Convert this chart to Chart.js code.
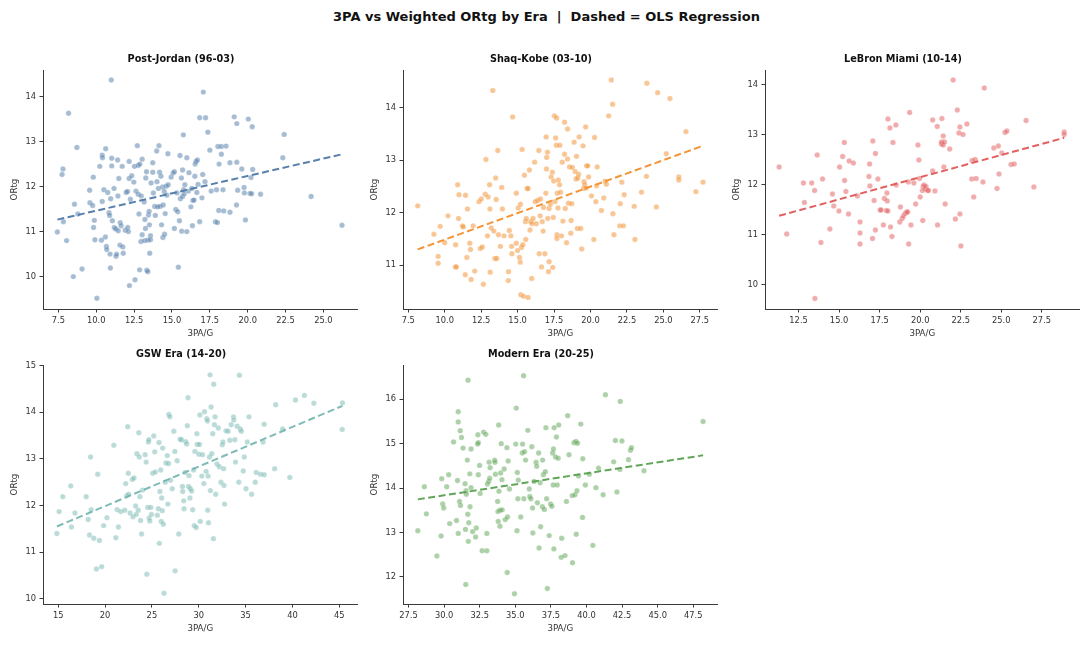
<!DOCTYPE html>
<html>
<head>
<meta charset="utf-8">
<script src="https://cdn.jsdelivr.net/npm/chart.js@4/dist/chart.umd.min.js"></script>
<style>
  html, body { margin: 0; padding: 0; background: #ffffff; }
  body { width: 1087px; height: 670px; position: relative; overflow: hidden; font-family: "DejaVu Sans", sans-serif; }
  #suptitle { position: absolute; left: 333px; top: 9px; font-size: 13px; font-weight: bold; color: #111; white-space: pre; line-height: 16px; }
  canvas { position: absolute; }
</style>
</head>
<body>
<div id="suptitle">3PA vs Weighted ORtg by Era  |  Dashed = OLS Regression</div>
<canvas id="c1" width="362" height="300" style="left:0px;top:45px"></canvas>
<canvas id="c2" width="362" height="300" style="left:360px;top:45px"></canvas>
<canvas id="c3" width="362" height="300" style="left:722px;top:45px"></canvas>
<canvas id="c4" width="362" height="300" style="left:0px;top:340px"></canvas>
<canvas id="c5" width="362" height="300" style="left:360px;top:340px"></canvas>
<script>
// ---------- data: [3PA/G, ORtg] ----------
const eraTitles = ["Post-Jordan (96-03)", "Shaq-Kobe (03-10)", "LeBron Miami (10-14)", "GSW Era (14-20)", "Modern Era (20-25)"];
const eraColors = ["#4e79a7", "#f28e2b", "#e15759", "#76b7b2", "#59a14f"];

const postJordan = [[7.43,10.99],[7.74,12.27],[7.8,12.39],[7.83,11.22],[8.04,10.8],[8.17,13.63],[8.48,10.0],[8.56,11.61],[8.72,12.87],[8.78,11.39],[9.06,10.17],[9.56,11.92],[9.58,11.64],[9.76,11.58],[9.8,12.21],[9.82,11.09],[9.87,11.25],[9.91,10.82],[10.04,9.52],[10.23,12.45],[10.39,12.7],[10.41,12.64],[10.39,11.67],[10.34,10.81],[10.5,11.93],[10.6,10.88],[10.62,12.84],[10.67,10.67],[10.69,10.6],[10.76,11.87],[10.84,11.42],[10.88,11.36],[10.91,10.5],[10.93,10.19],[10.95,11.73],[10.99,14.37],[11.02,12.63],[11.02,12.46],[11.06,11.24],[11.17,11.96],[11.19,11.09],[11.28,11.06],[11.3,10.45],[11.34,10.5],[11.41,12.59],[11.43,11.79],[11.45,11.02],[11.49,12.18],[11.56,10.7],[11.58,11.2],[11.64,11.13],[11.71,12.45],[11.75,10.66],[11.78,10.52],[11.91,11.03],[11.97,11.87],[12.06,11.89],[12.08,11.09],[12.12,11.0],[12.17,12.56],[12.17,12.18],[12.19,9.8],[12.25,11.72],[12.34,12.24],[12.48,12.1],[12.52,12.45],[12.56,9.93],[12.62,11.9],[12.71,12.91],[12.77,12.47],[12.77,11.83],[12.82,11.39],[12.86,10.15],[12.88,12.5],[12.95,10.78],[12.97,11.79],[13.03,12.61],[13.03,10.93],[13.16,11.66],[13.19,10.8],[13.21,11.27],[13.25,11.07],[13.27,12.19],[13.32,12.33],[13.34,10.14],[13.4,10.11],[13.4,10.81],[13.45,11.37],[13.49,11.45],[13.51,11.15],[13.53,10.52],[13.58,10.91],[13.58,10.82],[13.62,12.08],[13.73,12.53],[13.73,12.32],[13.77,11.86],[13.86,11.56],[13.9,11.36],[13.99,12.79],[14.01,12.11],[14.05,11.55],[14.1,11.96],[14.14,12.91],[14.18,12.32],[14.21,11.56],[14.27,12.23],[14.31,11.15],[14.38,11.99],[14.4,10.87],[14.42,11.59],[14.49,11.89],[14.51,10.94],[14.55,11.4],[14.62,12.01],[14.66,11.81],[14.73,12.73],[14.75,12.04],[14.94,12.21],[15.07,12.3],[15.16,12.33],[15.16,11.07],[15.25,11.49],[15.33,11.86],[15.38,11.44],[15.42,10.21],[15.49,11.24],[15.53,12.69],[15.55,11.73],[15.62,12.19],[15.64,11.01],[15.7,12.37],[15.7,11.78],[15.75,13.15],[15.77,11.93],[15.81,11.84],[15.85,12.04],[15.98,12.64],[15.98,11.0],[16.09,11.9],[16.12,12.31],[16.25,11.55],[16.31,11.96],[16.35,11.13],[16.38,11.69],[16.46,11.7],[16.51,12.23],[16.53,12.5],[16.59,12.56],[16.64,11.87],[16.68,12.59],[16.72,12.05],[16.83,11.22],[16.83,13.53],[16.98,11.75],[17.03,12.27],[17.07,14.1],[17.18,12.11],[17.22,13.53],[17.37,13.21],[17.5,12.81],[17.59,11.9],[17.87,11.22],[17.94,11.93],[18.0,11.2],[18.03,12.89],[18.09,11.47],[18.11,12.5],[18.26,12.89],[18.26,12.72],[18.37,11.93],[18.42,11.46],[18.57,12.9],[18.83,12.53],[18.83,11.43],[19.11,13.55],[19.26,11.59],[19.28,13.4],[19.28,12.54],[19.34,11.92],[19.61,12.39],[19.76,11.98],[19.78,11.86],[19.85,11.26],[20.04,13.5],[20.15,11.85],[20.22,12.2],[20.26,11.84],[20.3,13.33],[20.33,12.38],[20.85,11.83],[22.32,12.64],[22.41,13.16],[24.19,11.78],[26.23,11.14]];

const shaqKobe = [[8.15,12.13],[9.26,11.59],[9.55,11.17],[9.55,11.04],[9.69,11.74],[10.0,11.43],[10.23,11.94],[10.75,11.39],[10.73,10.97],[10.8,10.97],[10.89,12.53],[10.95,11.89],[10.98,12.34],[11.22,11.75],[11.27,11.73],[11.41,10.82],[11.43,12.33],[11.52,11.15],[11.56,12.07],[11.72,11.42],[11.77,11.3],[11.81,10.73],[11.95,11.75],[12.06,10.89],[12.35,12.21],[12.44,11.32],[12.51,12.26],[12.58,11.35],[12.65,10.64],[12.78,12.35],[12.83,13.01],[12.94,11.56],[12.98,12.3],[13.08,12.53],[13.1,12.07],[13.12,10.87],[13.19,11.71],[13.3,14.32],[13.37,11.65],[13.44,11.13],[13.5,12.66],[13.53,12.25],[13.57,11.13],[13.64,13.18],[13.69,11.58],[13.82,11.36],[13.91,12.48],[13.96,12.07],[14.07,11.56],[14.38,10.88],[14.36,10.71],[14.43,11.66],[14.54,11.56],[14.59,11.36],[14.61,11.22],[14.66,13.82],[14.91,11.42],[14.91,12.37],[15.0,11.28],[15.04,12.09],[15.13,11.15],[15.18,11.06],[15.2,12.16],[15.22,10.44],[15.27,11.34],[15.31,13.2],[15.36,11.39],[15.42,10.41],[15.47,12.71],[15.54,11.83],[15.56,11.49],[15.6,11.89],[15.65,12.46],[15.72,10.39],[15.72,12.46],[15.81,12.81],[15.85,11.67],[15.9,11.83],[15.97,10.75],[15.99,11.79],[16.06,11.89],[16.17,12.96],[16.21,12.21],[16.28,11.79],[16.37,12.23],[16.46,13.18],[16.48,11.22],[16.55,11.94],[16.57,12.26],[16.64,10.97],[16.69,11.83],[16.75,11.65],[16.78,12.1],[16.87,11.22],[16.94,12.37],[16.96,13.44],[16.98,12.83],[17.0,13.05],[17.05,13.15],[17.07,11.89],[17.12,10.88],[17.16,11.07],[17.16,12.08],[17.25,12.16],[17.3,12.68],[17.39,12.77],[17.41,10.96],[17.45,11.91],[17.48,12.6],[17.52,13.84],[17.57,12.21],[17.61,13.42],[17.66,13.28],[17.68,13.8],[17.7,11.58],[17.7,11.51],[17.72,12.37],[17.77,12.09],[17.79,12.62],[17.88,12.53],[17.9,13.28],[17.95,12.39],[18.02,11.56],[18.06,12.96],[18.11,11.84],[18.22,13.11],[18.22,13.72],[18.27,12.08],[18.36,11.43],[18.43,13.59],[18.43,13.02],[18.49,12.18],[18.56,12.87],[18.65,11.61],[18.67,11.85],[18.72,12.17],[18.76,12.86],[18.88,13.34],[18.95,12.78],[19.01,12.64],[19.04,13.07],[19.1,11.7],[19.13,12.66],[19.19,12.73],[19.22,13.44],[19.33,11.7],[19.4,11.31],[19.49,13.27],[19.53,12.46],[19.56,12.59],[19.6,12.53],[19.67,13.63],[19.69,12.47],[19.73,12.89],[19.82,12.89],[19.87,12.68],[20.07,12.32],[20.23,11.49],[20.28,13.43],[20.37,12.21],[20.42,12.51],[20.46,12.87],[20.75,12.04],[20.91,12.28],[21.0,12.6],[21.09,12.54],[21.25,13.84],[21.43,14.52],[21.52,14.06],[21.54,11.98],[21.61,11.58],[22.04,12.17],[22.01,11.75],[22.15,12.58],[22.26,11.75],[22.31,12.34],[23.0,12.12],[23.05,11.49],[23.5,12.39],[23.84,12.69],[23.87,14.46],[24.52,12.11],[24.61,14.28],[25.2,13.12],[25.45,14.17],[26.06,12.68],[26.06,12.62],[26.55,13.54],[27.23,12.4],[27.72,12.58]];

const lebronMiami = [[11.3,12.35],[11.77,11.01],[12.8,12.03],[12.86,11.64],[13.31,12.03],[13.49,11.88],[13.51,9.72],[13.65,12.59],[13.88,10.84],[13.98,12.11],[14.43,11.11],[14.59,11.81],[14.67,11.57],[14.99,11.47],[15.03,12.35],[15.22,12.56],[15.32,12.84],[15.34,12.08],[15.42,11.86],[15.58,11.41],[15.62,12.47],[15.88,12.43],[16.13,11.77],[16.29,11.25],[16.29,11.03],[16.29,10.81],[16.88,12.41],[16.84,12.16],[16.9,11.97],[17.08,12.87],[17.06,10.92],[17.16,11.68],[17.24,12.62],[17.24,11.09],[17.39,12.11],[17.53,11.49],[17.59,11.49],[17.73,11.19],[17.79,11.72],[17.91,11.48],[17.95,11.83],[17.97,11.67],[18.01,11.47],[18.01,13.31],[18.13,13.13],[18.17,11.15],[18.26,10.96],[18.32,12.84],[18.5,13.19],[18.52,11.99],[18.74,11.25],[18.78,11.55],[18.89,11.32],[18.97,11.37],[19.07,11.42],[19.17,11.45],[19.23,11.45],[19.27,12.05],[19.29,10.81],[19.35,13.44],[19.43,11.19],[19.61,12.03],[19.72,11.61],[19.86,12.79],[19.92,12.49],[19.96,12.12],[20.0,11.75],[20.14,11.88],[20.16,11.28],[20.18,11.96],[20.24,11.99],[20.3,11.91],[20.36,11.96],[20.45,11.88],[20.51,11.88],[20.77,13.29],[20.77,12.27],[20.91,11.87],[21.05,13.16],[21.07,11.19],[21.3,12.81],[21.32,12.85],[21.34,13.32],[21.42,12.97],[21.42,12.79],[21.46,12.35],[21.5,12.85],[21.54,11.61],[21.82,12.71],[22.03,14.09],[22.17,11.31],[22.29,13.49],[22.39,13.03],[22.45,13.15],[22.45,11.41],[22.51,10.77],[22.64,13.0],[22.88,13.21],[23.18,12.11],[23.2,12.48],[23.3,11.75],[23.39,12.5],[23.45,12.12],[23.87,12.05],[23.95,13.93],[24.54,12.73],[24.74,11.92],[24.82,12.77],[24.86,12.21],[25.03,12.63],[25.23,13.04],[25.35,13.07],[25.6,12.4],[25.8,12.41],[26.53,13.28],[27.01,11.95],[28.88,13.05],[28.88,13.0]];

const gswEra = [[14.86,11.4],[15.1,11.87],[15.49,12.19],[16.34,12.42],[16.41,11.54],[16.79,11.84],[17.99,12.19],[18.2,11.7],[18.34,11.37],[18.45,13.04],[18.52,11.91],[18.8,11.3],[19.08,10.64],[19.22,12.67],[19.4,11.25],[19.64,10.69],[19.85,11.57],[20.2,11.74],[20.94,13.29],[21.15,11.31],[21.29,11.91],[21.43,11.54],[21.68,11.87],[22.1,11.9],[22.21,12.47],[22.31,12.21],[22.42,13.69],[22.49,12.69],[22.52,12.24],[22.67,11.84],[22.91,12.56],[22.98,11.76],[23.09,12.59],[23.26,11.99],[23.33,11.81],[23.4,13.11],[23.54,11.9],[23.61,13.56],[23.65,13.04],[23.72,12.19],[23.79,11.68],[23.9,11.39],[24.0,12.33],[24.28,13.09],[24.39,12.93],[24.46,10.53],[24.56,11.96],[24.63,13.36],[24.67,13.41],[24.7,11.73],[24.78,11.67],[24.88,11.96],[24.95,11.81],[25.09,12.69],[25.2,13.49],[25.3,13.15],[25.37,12.72],[25.58,11.79],[25.69,11.93],[25.76,13.35],[25.79,11.19],[25.86,12.3],[25.94,12.76],[26.0,11.66],[26.04,12.16],[26.11,11.89],[26.15,13.23],[26.22,11.6],[26.29,10.12],[26.43,12.5],[26.5,12.91],[26.64,13.07],[26.71,12.03],[26.78,12.9],[26.81,13.95],[26.92,13.9],[26.99,12.54],[27.17,12.36],[27.34,13.59],[27.45,13.16],[27.48,10.6],[27.69,12.96],[27.87,11.39],[28.01,13.42],[28.15,13.41],[28.26,12.41],[28.29,12.3],[28.4,12.1],[28.43,11.93],[28.54,12.71],[28.61,13.37],[28.71,13.32],[28.78,13.71],[28.85,14.31],[28.92,12.41],[28.96,12.64],[29.06,12.16],[29.1,12.36],[29.24,12.31],[29.35,11.91],[29.45,12.76],[29.52,11.57],[29.59,13.16],[29.73,11.53],[29.8,13.54],[29.84,13.31],[30.01,13.1],[30.08,13.31],[30.12,13.94],[30.16,11.66],[30.33,12.63],[30.4,13.09],[30.54,12.47],[30.61,14.01],[30.79,12.73],[30.86,13.86],[30.93,13.81],[30.96,11.9],[31.0,12.63],[31.04,11.63],[31.14,13.04],[31.21,14.8],[31.24,12.32],[31.32,14.11],[31.39,13.11],[31.49,13.54],[31.56,11.29],[31.6,14.6],[31.67,13.73],[31.74,13.9],[31.81,12.24],[31.95,12.89],[32.09,13.66],[32.19,12.83],[32.37,12.5],[32.51,13.3],[32.58,13.36],[32.65,12.79],[32.69,12.43],[32.76,12.03],[32.9,13.6],[33.14,13.59],[33.32,13.4],[33.46,13.73],[33.71,13.9],[33.74,13.83],[33.85,13.41],[33.92,12.93],[34.09,13.7],[34.27,12.5],[34.34,14.79],[34.44,13.64],[34.54,13.59],[34.75,12.74],[34.86,13.04],[35.04,12.36],[35.18,13.36],[35.36,13.9],[35.64,12.24],[36.03,12.5],[36.13,12.71],[36.59,12.67],[36.87,13.36],[36.98,13.74],[36.98,12.66],[38.1,12.79],[38.21,14.16],[38.95,13.64],[39.72,12.6],[40.32,14.26],[41.27,14.36],[42.29,14.19],[45.34,14.2],[45.31,13.63]];

const modernEra = [[28.15,13.04],[28.61,14.03],[28.75,13.42],[29.49,12.47],[29.83,14.21],[29.79,12.92],[29.9,13.64],[29.97,13.55],[30.18,14.03],[30.32,14.3],[30.39,13.2],[30.66,15.04],[30.87,13.27],[30.94,14.17],[30.99,15.72],[30.99,15.49],[30.99,12.98],[31.08,13.7],[31.13,15.29],[31.15,13.61],[31.22,15.14],[31.33,14.9],[31.47,14.1],[31.5,13.07],[31.52,11.83],[31.54,13.94],[31.56,13.86],[31.63,14.63],[31.66,13.41],[31.68,16.43],[31.7,12.8],[31.73,13.22],[31.8,14.32],[31.82,13.58],[31.89,14.88],[31.89,14.01],[32.0,13.02],[32.21,12.9],[32.26,13.1],[32.35,14.99],[32.37,15.2],[32.4,15.02],[32.4,14.3],[32.49,14.51],[32.53,13.88],[32.67,12.59],[32.77,15.26],[32.93,15.21],[33.0,12.59],[33.0,12.98],[33.04,14.09],[33.13,14.15],[33.16,14.58],[33.2,14.22],[33.23,14.46],[33.55,14.63],[33.57,14.58],[33.6,14.31],[33.76,13.7],[33.78,13.47],[33.8,13.25],[33.83,15.42],[33.85,13.93],[33.92,13.5],[33.92,13.14],[33.97,14.34],[34.01,15.0],[34.06,14.19],[34.08,13.51],[34.22,14.43],[34.29,13.29],[34.41,14.91],[34.43,12.1],[34.45,13.35],[34.5,14.61],[34.59,13.98],[34.94,11.62],[35.03,14.99],[35.07,15.8],[35.12,13.04],[35.14,14.35],[35.18,13.76],[35.21,14.18],[35.38,13.35],[35.49,14.79],[35.51,14.99],[35.58,16.53],[35.6,13.76],[35.65,14.82],[35.72,14.63],[35.88,15.3],[35.98,13.98],[36.02,13.81],[36.09,13.76],[36.16,14.93],[36.21,13.55],[36.23,12.99],[36.32,14.15],[36.46,14.58],[36.5,14.49],[36.55,13.67],[36.64,14.79],[36.67,12.65],[36.74,14.12],[36.78,13.13],[36.9,13.58],[36.92,14.63],[36.97,14.3],[37.04,13.52],[37.11,14.37],[37.15,15.36],[37.2,13.76],[37.25,11.74],[37.38,12.93],[37.48,13.64],[37.57,13.59],[37.62,14.79],[37.66,14.07],[37.68,14.88],[37.71,12.63],[37.73,15.36],[37.82,14.7],[37.89,15.15],[37.94,14.07],[38.01,14.67],[38.05,15.42],[38.26,12.87],[38.22,12.44],[38.49,12.48],[38.59,13.7],[38.68,15.63],[38.77,14.75],[39.0,13.83],[39.02,12.32],[39.12,15.02],[39.19,13.85],[39.26,15.05],[39.33,13.94],[39.28,12.96],[39.37,15.01],[39.44,14.27],[39.6,15.44],[39.72,13.34],[39.74,14.66],[39.92,14.07],[40.2,14.31],[40.45,12.71],[40.66,14.01],[40.85,14.45],[41.17,13.85],[41.33,16.1],[41.91,14.59],[42.03,15.07],[42.14,13.91],[42.35,14.42],[42.37,15.95],[42.49,15.06],[42.95,14.64],[43.09,14.85],[43.16,14.91],[44.04,14.39],[48.19,15.5]];

// ---------- tick labels ----------
const xTicks1 = [7.5, 10.0, 12.5, 15.0, 17.5, 20.0, 22.5, 25.0];
const yTicks1 = [10, 11, 12, 13, 14];
const xTicks2 = [7.5, 10.0, 12.5, 15.0, 17.5, 20.0, 22.5, 25.0, 27.5];
const yTicks2 = [11, 12, 13, 14];
const xTicks3 = [12.5, 15.0, 17.5, 20.0, 22.5, 25.0, 27.5];
const yTicks3 = [10, 11, 12, 13, 14];
const xTicks4 = [15, 20, 25, 30, 35, 40, 45];
const yTicks4 = [10, 11, 12, 13, 14, 15];
const xTicks5 = [27.5, 30.0, 32.5, 35.0, 37.5, 40.0, 42.5, 45.0, 47.5];
const yTicks5 = [12, 13, 14, 15, 16];

// axis ranges (matplotlib auto-margins)
const xRanges = [[6.48, 27.26], [7.14, 28.72], [10.43, 29.83], [13.38, 46.95], [27.11, 49.21]];
const yRanges = [[9.28, 14.59], [10.17, 14.71], [9.51, 14.29], [9.89, 15.01], [11.39, 16.77]];
const xDecimals = [1, 1, 1, 0, 1];

// ---------- helpers ----------
Chart.defaults.font.family = '"DejaVu Sans", sans-serif';
function rgba(hex, a) {
  const n = parseInt(hex.slice(1), 16);
  return `rgba(${(n >> 16) & 255},${(n >> 8) & 255},${n & 255},${a})`;
}
function olsLine(pts) {
  const n = pts.length;
  let mx = 0, my = 0;
  pts.forEach(p => { mx += p[0]; my += p[1]; });
  mx /= n; my /= n;
  let sxy = 0, sxx = 0;
  pts.forEach(p => { sxy += (p[0] - mx) * (p[1] - my); sxx += (p[0] - mx) ** 2; });
  const b = sxy / sxx, a = my - b * mx;
  const xs = pts.map(p => p[0]);
  const x0 = Math.min(...xs), x1 = Math.max(...xs);
  return [{ x: x0, y: a + b * x0 }, { x: x1, y: a + b * x1 }];
}
const axisColor = '#3a3a3a';
const textColor = '#333333';

function makePanel(canvasId, idx, pts, xTicks, yTicks) {
  const color = eraColors[idx];
  const dec = xDecimals[idx];
  new Chart(document.getElementById(canvasId), {
    type: 'scatter',
    data: {
      datasets: [
        {
          data: olsLine(pts),
          showLine: true,
          borderColor: rgba(color, 0.95),
          borderWidth: 2,
          borderDash: [7, 3.5],
          pointRadius: 0,
          fill: false,
          order: 0
        },
        {
          data: pts.map(p => ({ x: p[0], y: p[1] })),
          pointRadius: 2.7,
          pointBackgroundColor: rgba(color, 0.5),
          pointBorderColor: 'rgba(255,255,255,0.5)',
          pointBorderWidth: 0.4,
          order: 1
        }
      ]
    },
    options: {
      responsive: false,
      devicePixelRatio: 1,
      animation: false,
      layout: { padding: 0 },
      plugins: {
        legend: { display: false },
        tooltip: { enabled: false },
        title: {
          display: true,
          text: eraTitles[idx],
          color: '#111',
          font: { size: 9.7, weight: 'bold' },
          padding: { top: 9, bottom: 4.4 }
        }
      },
      scales: {
        x: {
          type: 'linear',
          min: xRanges[idx][0],
          max: xRanges[idx][1],
          border: { display: true, color: axisColor, width: 1 },
          grid: { display: true, drawOnChartArea: false, drawTicks: true, tickLength: 3.5, color: axisColor },
          ticks: {
            color: textColor, font: { size: 8.3 }, padding: 3, autoSkip: false, maxRotation: 0,
            includeBounds: false,
            callback: v => Number(v).toFixed(dec)
          },
          afterBuildTicks: axis => { axis.ticks = xTicks.map(v => ({ value: v })); },
          afterFit: s => { s.height = 36; s.paddingLeft = 0; s.paddingRight = 0; },
          title: { display: true, text: '3PA/G', color: textColor, font: { size: 8.7 }, padding: { top: 0, bottom: 6 } }
        },
        y: {
          type: 'linear',
          min: yRanges[idx][0],
          max: yRanges[idx][1],
          border: { display: true, color: axisColor, width: 1 },
          grid: { display: true, drawOnChartArea: false, drawTicks: true, tickLength: 3.5, color: axisColor },
          ticks: {
            color: textColor, font: { size: 8.3 }, padding: 3.5, autoSkip: false,
            includeBounds: false,
            callback: v => Number(v).toFixed(0)
          },
          afterBuildTicks: axis => { axis.ticks = yTicks.map(v => ({ value: v })); },
          afterFit: s => { s.width = 43; s.paddingTop = 0; s.paddingBottom = 0; },
          title: { display: true, text: 'ORtg', color: textColor, font: { size: 8.7 }, padding: { top: 10, bottom: 0 } }
        }
      }
    }
  });
}

makePanel('c1', 0, postJordan, xTicks1, yTicks1);
makePanel('c2', 1, shaqKobe, xTicks2, yTicks2);
makePanel('c3', 2, lebronMiami, xTicks3, yTicks3);
makePanel('c4', 3, gswEra, xTicks4, yTicks4);
makePanel('c5', 4, modernEra, xTicks5, yTicks5);
</script>
</body>
</html>
